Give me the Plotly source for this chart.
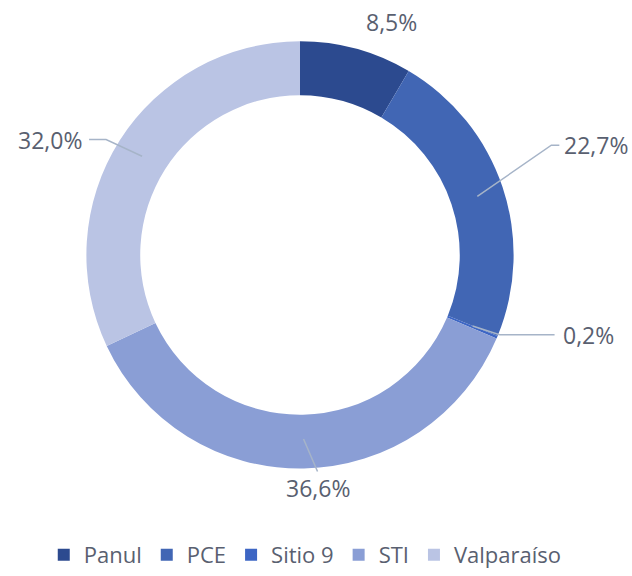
import math
import plotly.graph_objects as go

# ---- data ----
categories = ["Panul", "PCE", "Sitio 9", "STI", "Valparaíso"]
values = [8.5, 22.7, 0.2, 36.6, 32.0]
label_texts = ["8,5%", "22,7%", "0,2%", "36,6%", "32,0%"]

# ---- style ----
colors = ["#2c4a8f", "#4166b4", "#3d66c4", "#8a9ed5", "#bac4e4"]
W, H = 632, 576
CX, CY, R_OUT = 300, 259, 214
DOMAIN_PAD = 3
HOLE = 0.748
R_MID = R_OUT * (1 + HOLE) / 2
text_color = "#596070"
line_color = "#a6b4c8"
font_family = "Open Sans, Liberation Sans, sans-serif"
# per-label leader style: (elbow dx, elbow dy, horizontal run, text gap, show line)
leader_style = [
    (42, -56, 0, 0, False),
    (74, -52, 8, 3, True),
    (27, 9, 55, 6, True),
    (14, 33, 0, 17, True),
    (-36, -17, -17, 5, True),
]

fig = go.Figure()
RD = R_OUT + DOMAIN_PAD
fig.add_trace(go.Pie(
    labels=categories, values=values, sort=False, direction="clockwise",
    rotation=0, hole=HOLE, textinfo="none", hoverinfo="label+percent",
    marker=dict(colors=colors, line=dict(width=0)),
    domain=dict(x=[(CX - RD) / W, (CX + RD) / W],
                y=[1 - (CY + RD) / H, 1 - (CY - RD) / H]),
))

def px(x, y):
    return x / W, 1 - y / H

total = sum(values)
cum = 0
shapes, annotations = [], []
for v, txt, (edx, edy, run, gap, show) in zip(values, label_texts, leader_style):
    mid = (cum + v / 2) / total * 2 * math.pi
    cum += v
    rx = CX + R_MID * math.sin(mid)
    ry = CY - R_MID * math.cos(mid)
    ex, ey = rx + edx, ry + edy
    fx, fy = ex + run, ey
    if show:
        pts = [px(rx, ry), px(ex, ey), px(fx, fy)]
        path = "M {} {} L {} {} L {} {}".format(*[c for p in pts for c in p])
        shapes.append(dict(type="path", path=path, xref="paper", yref="paper",
                           line=dict(color=line_color, width=1.5)))
    if not show:
        tx, ty, anchor = ex, ey, "center"
    elif run > 0:
        tx, ty, anchor = fx + gap, fy, "left"
    elif run < 0:
        tx, ty, anchor = fx - gap, fy, "right"
    else:
        tx, ty, anchor = fx, fy + gap, "center"
    x_p, y_p = px(tx, ty)
    annotations.append(dict(x=x_p, y=y_p, xref="paper", yref="paper", text=txt,
                            showarrow=False, xanchor=anchor, yanchor="middle",
                            font=dict(size=23, color=text_color, family=font_family)))

fig.update_layout(
    width=W, height=H, margin=dict(l=0, r=0, t=0, b=0),
    paper_bgcolor="white", plot_bgcolor="white",
    shapes=shapes, annotations=annotations,
    showlegend=True,
    legend=dict(orientation="h", x=0.483, xanchor="center", y=1 - 564 / H,
                yanchor="middle", font=dict(size=22, color=text_color, family=font_family),
                itemwidth=30, traceorder="normal"),
)
fig.write_html("out.html")
